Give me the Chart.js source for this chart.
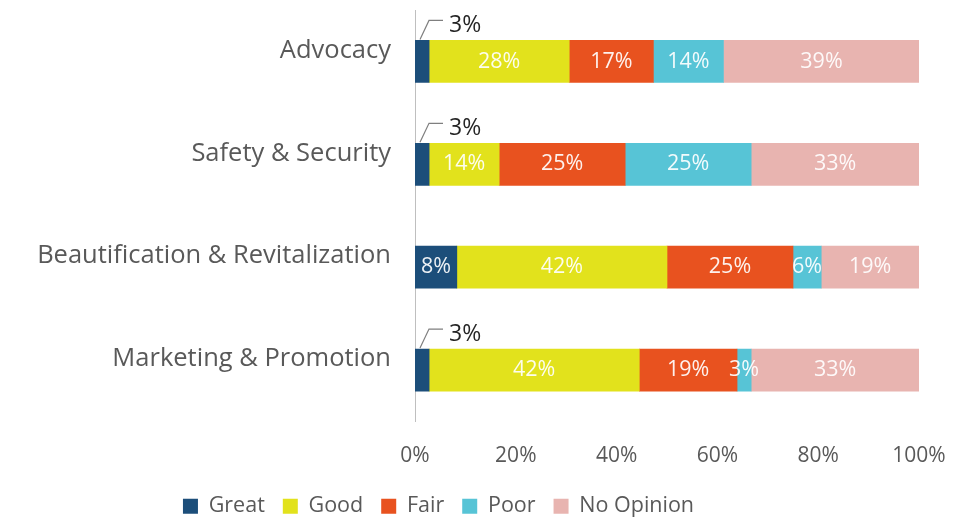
<!DOCTYPE html>
<html>
<head>
<meta charset="utf-8">
<script src="https://cdn.jsdelivr.net/npm/chart.js@4.4.1/dist/chart.umd.min.js"></script>
<style>
  html, body { margin: 0; padding: 0; background: #fff; }
  canvas { display: block; }
</style>
</head>
<body>
<canvas id="surveyChart" width="980" height="524"></canvas>
<script>
// Categorías y porcentajes (36 respuestas por categoría)
const categories = ['Advocacy', 'Safety & Security', 'Beautification & Revitalization', 'Marketing & Promotion'];
const seriesNames = ['Great', 'Good', 'Fair', 'Poor', 'No Opinion'];
const great = [2.8, 2.8, 8.3, 2.8];
const good = [27.8, 13.9, 41.7, 41.7];
const fair = [16.7, 25.0, 25.0, 19.4];
const poor = [13.9, 25.0, 5.6, 2.8];
const noOpinion = [38.9, 33.3, 19.4, 33.3];
const xTicks = [0, 20, 40, 60, 80, 100];

const colors = ['#1c4e7a', '#e2e21c', '#e8521f', '#57c4d6', '#e8b4b0'];
const FONT = '"Open Sans", "Noto Sans", sans-serif';

// Etiquetas de valor: dentro de la barra en blanco, o fuera con una línea guía si el segmento es muy pequeño
const valueLabels = {
    id: 'valueLabels',
    afterLayout(chart) {
        // desplazar la leyenda un poco, como en el original
        if (chart.legend) {
            chart.legend.left -= 21;
            chart.legend.right -= 21;
            chart.legend.top += 3;
            chart.legend.bottom += 3;
        }
    },
    afterDatasetsDraw(chart) {
        const ctx = chart.ctx;
        ctx.save();
        chart.data.datasets.forEach((ds, di) => {
            const meta = chart.getDatasetMeta(di);
            meta.data.forEach((bar, i) => {
                const v = ds.data[i];
                const text = Math.round(v) + '%';
                const left = Math.min(bar.x, bar.base);
                const right = Math.max(bar.x, bar.base);
                if (di === 0 && v < 5) {
                    const top = bar.y - bar.height / 2;
                    ctx.strokeStyle = '#7f7f7f';
                    ctx.lineWidth = 1.2;
                    ctx.beginPath();
                    ctx.moveTo(left + 5, top - 1);
                    ctx.lineTo(left + 14, top - 20);
                    ctx.lineTo(left + 28, top - 20);
                    ctx.stroke();
                    ctx.fillStyle = '#262626';
                    ctx.font = '23px ' + FONT;
                    ctx.textAlign = 'left';
                    ctx.textBaseline = 'middle';
                    ctx.fillText(text, left + 34, top - 15);
                } else {
                    ctx.fillStyle = 'rgba(255,255,255,0.92)';
                    ctx.font = '21.5px ' + FONT;
                    ctx.textAlign = 'center';
                    ctx.textBaseline = 'middle';
                    ctx.fillText(text, (left + right) / 2, bar.y);
                }
            });
        });
        ctx.restore();
    }
};

const seriesData = [great, good, fair, poor, noOpinion];

new Chart(document.getElementById('surveyChart').getContext('2d'), {
    type: 'bar',
    data: {
        labels: categories,
        datasets: seriesNames.map((name, k) => ({
            label: name,
            data: seriesData[k],
            backgroundColor: colors[k],
            borderWidth: 0,
            barThickness: 42
        }))
    },
    options: {
        indexAxis: 'y',
        responsive: false,
        animation: false,
        layout: {
            padding: { top: 10, right: 61, bottom: 0, left: 0 }
        },
        scales: {
            x: {
                stacked: true,
                min: 0,
                max: 100,
                afterBuildTicks: function(scale) {
                    scale.ticks = xTicks.map(v => ({ value: v }));
                },
                afterFit: function(scale) {
                    scale.height = 53;
                },
                grid: { display: false, drawTicks: false },
                border: { display: false },
                ticks: {
                    padding: 22,
                    color: '#595959',
                    font: { family: FONT, size: 21 },
                    callback: function(value) {
                        return value + '%';
                    }
                }
            },
            y: {
                stacked: true,
                afterFit: function(scale) {
                    scale.width = 415;
                    scale.paddingTop = 0;
                    scale.paddingBottom = 0;
                },
                grid: { display: false, drawTicks: false },
                border: { display: true, color: '#bfbfbf', width: 1 },
                ticks: {
                    padding: 24,
                    labelOffset: -11,
                    color: '#595959',
                    font: { family: FONT, size: 25.5 }
                }
            }
        },
        plugins: {
            legend: {
                position: 'bottom',
                labels: {
                    boxWidth: 15,
                    boxHeight: 15,
                    padding: 18,
                    color: '#595959',
                    font: { family: FONT, size: 21.5 }
                }
            },
            tooltip: { enabled: false }
        }
    },
    plugins: [valueLabels]
});
</script>
</body>
</html>
